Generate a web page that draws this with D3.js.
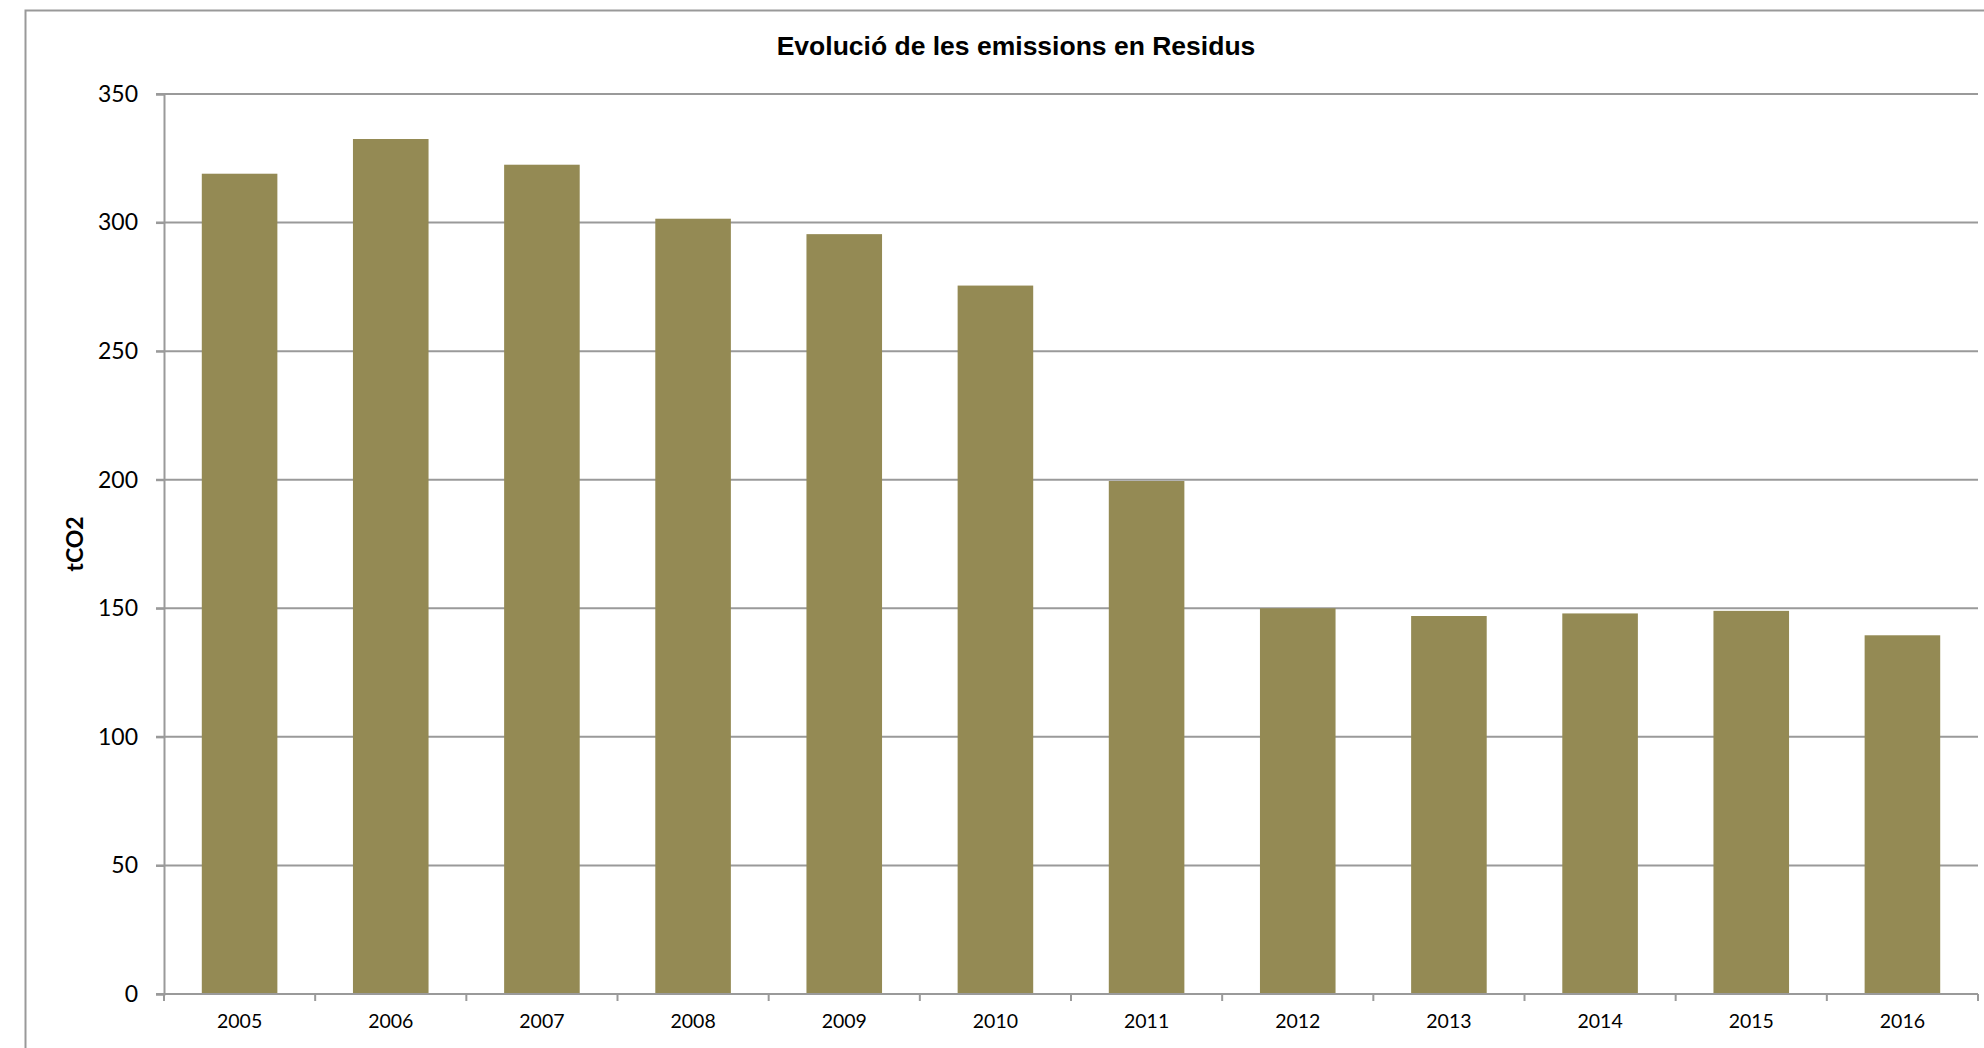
<!DOCTYPE html>
<html>
<head>
<meta charset="utf-8">
<script src="https://cdn.jsdelivr.net/npm/d3@7"></script>
<style>
  html, body { margin: 0; padding: 0; background: #fff; }
  svg { display: block; }
</style>
</head>
<body>
<svg id="chart" width="1984" height="1048"></svg>
<script>
const years = ["2005","2006","2007","2008","2009","2010","2011","2012","2013","2014","2015","2016"];
const emissions = [319, 332.5, 322.5, 301.5, 295.5, 275.5, 199.5, 150, 147, 148, 149, 139.5];
const yTicks = [0, 50, 100, 150, 200, 250, 300, 350];
const titleText = "Evolució de les emissions en Residus";
const yAxisTitle = "tCO2";

const svg = d3.select("#chart");
const W = 1984, H = 1048;
const plot = { left: 164, right: 1978, top: 94, bottom: 994 };
const barColor = "#948A54";
const gridColor = "#9a9a9a";

// outer chart border (cropped on right/bottom)
svg.append("rect")
  .attr("x", 25.5).attr("y", 10.5)
  .attr("width", W + 20).attr("height", H + 20)
  .attr("fill", "#fff").attr("stroke", "#999").attr("stroke-width", 2);

const x = d3.scaleBand().domain(years).range([plot.left, plot.right])
  .paddingInner(0.5).paddingOuter(0.25);
const y = d3.scaleLinear().domain([0, 350]).range([plot.bottom, plot.top]);

// gridlines
svg.append("g").selectAll("line").data(yTicks.filter(d => d > 0)).join("line")
  .attr("x1", plot.left - 8).attr("x2", plot.right)
  .attr("y1", d => y(d)).attr("y2", d => y(d))
  .attr("stroke", gridColor).attr("stroke-width", 2);

// bars
svg.append("g").selectAll("rect").data(years).join("rect")
  .attr("x", d => x(d))
  .attr("y", (d, i) => y(emissions[i]))
  .attr("width", x.bandwidth())
  .attr("height", (d, i) => y(0) - y(emissions[i]))
  .attr("fill", barColor);

// y axis
const yAxis = d3.axisLeft(y).tickValues(yTicks).tickSize(8).tickPadding(18).tickFormat(d3.format("d"));
const gy = svg.append("g").attr("transform", `translate(${plot.left},0)`).call(yAxis);
gy.select(".domain").attr("stroke", gridColor).attr("stroke-width", 2);
gy.selectAll(".tick line").attr("stroke", gridColor).attr("stroke-width", 2);
gy.selectAll(".tick text").attr("font-family", "Lato, 'Open Sans', sans-serif")
  .attr("font-size", 23).attr("fill", "#000");

// x axis
const xAxis = d3.axisBottom(x).tickSize(0).tickPadding(20);
const gx = svg.append("g").attr("transform", `translate(0,${plot.bottom})`).call(xAxis);
gx.select(".domain").remove();
gx.selectAll(".tick text").attr("font-family", "Lato, 'Open Sans', sans-serif")
  .attr("font-size", 19.5).attr("fill", "#000");
// axis baseline & category boundary ticks
svg.append("line").attr("x1", plot.left - 8).attr("x2", plot.right)
  .attr("y1", plot.bottom).attr("y2", plot.bottom)
  .attr("stroke", gridColor).attr("stroke-width", 2);
const bounds = years.map(d => x(d) - x.step() * x.paddingInner() / 2);
bounds.push(plot.right);
bounds[0] = plot.left;
svg.append("g").selectAll("line").data(bounds).join("line")
  .attr("x1", d => d).attr("x2", d => d)
  .attr("y1", plot.bottom).attr("y2", plot.bottom + 7)
  .attr("stroke", gridColor).attr("stroke-width", 2);

// title
svg.append("text").attr("x", 1016).attr("y", 55)
  .attr("text-anchor", "middle")
  .attr("font-family", "'Liberation Sans', Arial, sans-serif")
  .attr("font-weight", "bold").attr("font-size", 26.5).attr("fill", "#000")
  .text(titleText);

// y axis title
svg.append("text")
  .attr("transform", `translate(83,${(plot.top + plot.bottom) / 2}) rotate(-90)`)
  .attr("text-anchor", "middle")
  .attr("font-family", "Lato, 'Open Sans', sans-serif")
  .attr("font-weight", "bold").attr("font-size", 23).attr("fill", "#000")
  .text(yAxisTitle);
</script>
</body>
</html>
